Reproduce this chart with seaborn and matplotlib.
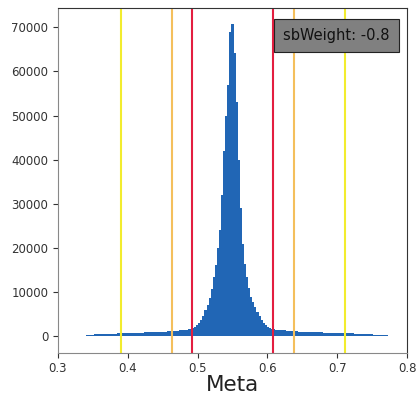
import numpy as np
import pandas as pd
import matplotlib
matplotlib.use("Agg")
import matplotlib.pyplot as plt
import seaborn as sns

# ---- data ----
bin_lo, bin_hi, n_bins = 0.334, 0.781, 150
counts = [
    150, 180, 200, 220, 250,
    420, 440, 460, 480, 500,
    520, 540, 560, 580, 600,
    620, 640, 660, 700, 720,
    740, 750, 760, 770, 790,
    800, 810, 830, 840, 860,
    880, 890, 910, 930, 950,
    970, 990, 1010, 1040, 1070,
    1100, 1130, 1160, 1190, 1230,
    1270, 1310, 1350, 1400, 1450,
    1520, 1600, 1700, 1900, 2200,
    2500, 3000, 3700, 4700, 5900,
    7200, 8700, 10800, 13500, 16100,
    19900, 24000, 32000, 42000, 50000,
    57000, 69000, 70800, 64200, 53000,
    40000, 29000, 21000, 16500, 13500,
    11000, 9000, 7800, 6600, 5600,
    4600, 3800, 3100, 2600, 2200,
    1900, 1700, 1600, 1550, 1500,
    1450, 1400, 1350, 1300, 1260,
    1220, 1180, 1150, 1120, 1090,
    1060, 1040, 1020, 1000, 980,
    960, 950, 940, 920, 900,
    880, 860, 850, 830, 820,
    800, 790, 770, 760, 750,
    740, 720, 710, 690, 680,
    660, 640, 620, 600, 580,
    550, 530, 500, 480, 450,
    420, 390, 360, 330, 300,
    260, 220, 180, 140, 100,
]
yellow_lines = [0.390, 0.711]
orange_lines = [0.463, 0.638]
red_lines = [0.492, 0.608]
annotation = "sbWeight: -0.8"
xlabel = "Meta"
xticks = [0.3, 0.4, 0.5, 0.6, 0.7, 0.8]

# ---- plotting ----
edges = np.linspace(bin_lo, bin_hi, n_bins + 1)
centers = (edges[:-1] + edges[1:]) / 2
df = pd.DataFrame({"meta": centers, "count": counts})

fig = plt.figure(figsize=(4.16, 3.95), dpi=100)
ax = fig.add_axes([0.1394, 0.1071, 0.8390, 0.8719])

sns.histplot(data=df, x="meta", weights="count", bins=n_bins,
             binrange=(bin_lo, bin_hi), stat="count",
             element="bars", color="#2166b5", alpha=1, linewidth=0, ax=ax)

for v in yellow_lines:
    ax.axvline(v, color="#f2ec2e", lw=1.5)
for v in orange_lines:
    ax.axvline(v, color="#f4bf5c", lw=1.5)
for v in red_lines:
    ax.axvline(v, color="#e31e40", lw=1.5)

ax.set_xlim(0.3, 0.8)
ax.set_ylim(-3700, 74300)
ax.set_xticks(xticks)
ax.set_xticklabels([f"{t:.1f}" for t in xticks])
ax.set_yticks(np.arange(0, 70001, 10000))
ax.set_ylabel("")
ax.set_xlabel(xlabel, fontsize=15.5, color="#222222", labelpad=0)
ax.tick_params(labelsize=8.5, colors="#333333", length=3.5, width=0.8)

for s in ["left", "bottom"]:
    ax.spines[s].set_color("#888888")
for s in ["top", "right"]:
    ax.spines[s].set_color("#333333")

ax.text(0.950, 0.942, annotation, transform=ax.transAxes, ha="right", va="top",
        fontsize=10.5, color="#111111",
        bbox=dict(boxstyle="square,pad=0.62", facecolor="#808080",
                  edgecolor="#222222", linewidth=0.8))

fig.savefig("out.png", dpi=100)
